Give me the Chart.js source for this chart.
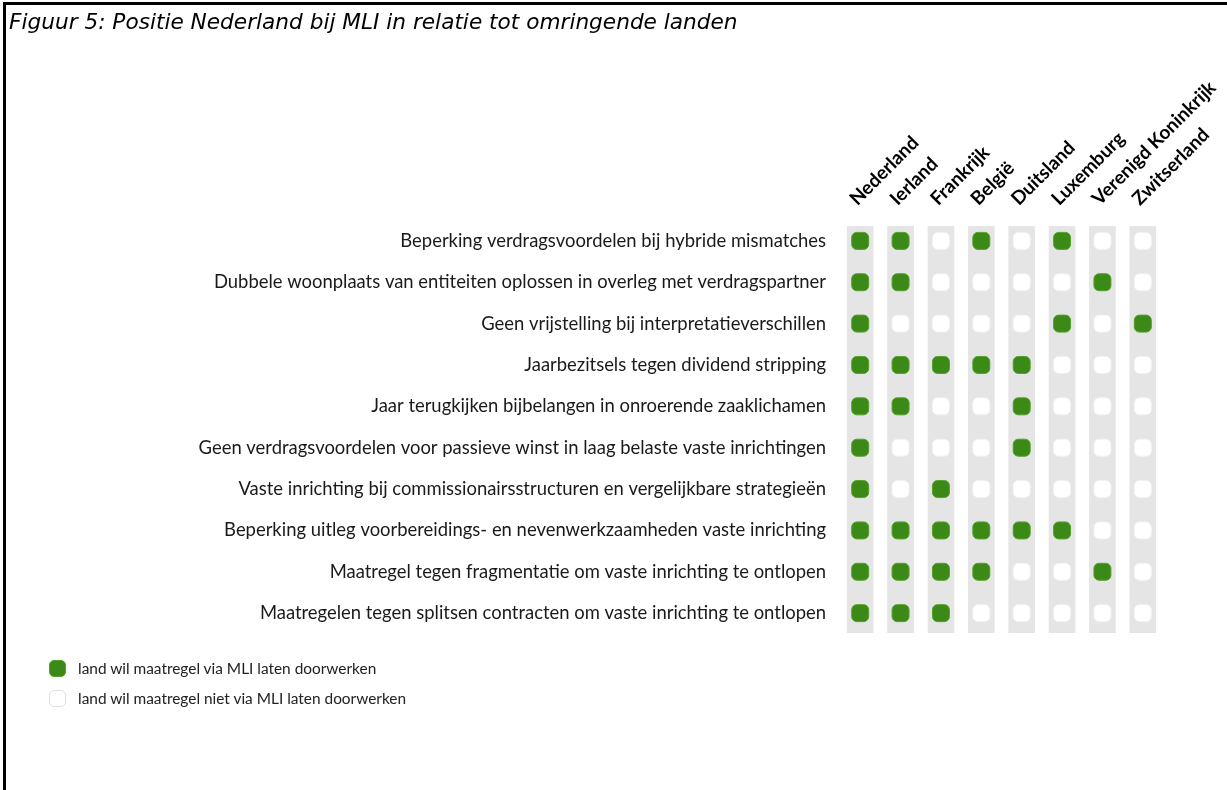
<!DOCTYPE html>
<html><head><meta charset="utf-8">
<script src="https://cdn.jsdelivr.net/npm/chart.js@4/dist/chart.umd.min.js"></script>
<style>
html,body{margin:0;padding:0;background:#fff;}
#wrap{position:relative;width:1227px;height:790px;overflow:hidden;background:#fff;}
#frameTop{position:absolute;left:3px;top:2px;width:1224px;height:3px;background:#000;}
#frameLeft{position:absolute;left:3px;top:2px;width:3px;height:788px;background:#000;}
#title{position:absolute;left:9px;top:11px;font-family:"DejaVu Sans";font-style:italic;white-space:nowrap;color:#000;line-height:1;}
#chart{position:absolute;left:0;top:0;}
#legend{position:absolute;left:49px;top:653px;font-family:Lato;color:#222;}
.item{display:flex;align-items:center;height:30px;white-space:nowrap;}
.sw{width:17px;height:17px;border-radius:5px;margin-right:12px;box-sizing:border-box;flex:none;}
</style></head>
<body>
<div id="wrap">
  <canvas id="chart" width="1227" height="790"></canvas>
  <div id="frameTop"></div><div id="frameLeft"></div>
  <div id="title"></div>
  <div id="legend"></div>
</div>
<script>
const titleText = 'Figuur 5: Positie Nederland bij MLI in relatie tot omringende landen';
const countries = ['Nederland','Ierland','Frankrijk','België','Duitsland','Luxemburg','Verenigd Koninkrijk','Zwitserland'];
const measures = [
  'Beperking verdragsvoordelen bij hybride mismatches',
  'Dubbele woonplaats van entiteiten oplossen in overleg met verdragspartner',
  'Geen vrijstelling bij interpretatieverschillen',
  'Jaarbezitsels tegen dividend stripping',
  'Jaar terugkijken bijbelangen in onroerende zaaklichamen',
  'Geen verdragsvoordelen voor passieve winst in laag belaste vaste inrichtingen',
  'Vaste inrichting bij commissionairsstructuren en vergelijkbare strategieën',
  'Beperking uitleg voorbereidings- en nevenwerkzaamheden vaste inrichting',
  'Maatregel tegen fragmentatie om vaste inrichting te ontlopen',
  'Maatregelen tegen splitsen contracten om vaste inrichting te ontlopen'
];
// 1 = land wil maatregel via MLI laten doorwerken, 0 = niet
const nederland   = [1,1,1,1,1,1,1,1,1,1];
const ierland     = [1,1,0,1,1,0,0,1,1,1];
const frankrijk   = [0,0,0,1,0,0,1,1,1,1];
const belgie      = [1,0,0,1,0,0,0,1,1,0];
const duitsland   = [0,0,0,1,1,1,0,1,0,0];
const luxemburg   = [1,0,1,0,0,0,0,1,0,0];
const verenigdKoninkrijk = [0,1,0,0,0,0,0,0,1,0];
const zwitserland = [0,0,1,0,0,0,0,0,0,0];
const countryValues = [nederland, ierland, frankrijk, belgie, duitsland, luxemburg, verenigdKoninkrijk, zwitserland];
const legendLabels = ['land wil maatregel via MLI laten doorwerken','land wil maatregel niet via MLI laten doorwerken'];

const GREEN = '#3b8a17', GREEN_EDGE = '#55a02b', STRIP = '#e5e5e5', WHITE = '#ffffff', WHITE_EDGE = '#f2f2f2';
const Y_MIN = -0.36, Y_MAX = 9.48;

const mctx = document.createElement('canvas').getContext('2d');
function fitSize(text, font, target){ mctx.font = font.replace('SIZE','100px'); return 100*target/mctx.measureText(text).width; }
const rowSize = fitSize(measures[5], 'normal 400 SIZE Lato', 628);
const colSize = fitSize('Verenigd Koninkrijk', 'normal 700 SIZE Lato', 166);
const titleSize = fitSize(titleText, 'italic 400 SIZE "DejaVu Sans"', 729);
const legendSize = fitSize(legendLabels[1], 'normal 400 SIZE Lato', 329);

const t = document.getElementById('title');
t.textContent = titleText; t.style.fontSize = titleSize + 'px';
const lg = document.getElementById('legend');
legendLabels.forEach((txt, i) => {
  const it = document.createElement('div'); it.className = 'item';
  const sw = document.createElement('div'); sw.className = 'sw';
  sw.style.background = i === 0 ? GREEN : WHITE;
  sw.style.border = '1px solid ' + (i === 0 ? GREEN_EDGE : '#e0e0e0');
  const tx = document.createElement('span'); tx.textContent = txt; tx.style.fontSize = legendSize + 'px';
  it.appendChild(sw); it.appendChild(tx); lg.appendChild(it);
});

const yes = [], no = [];
countries.forEach((c, ci) => countryValues[ci].forEach((v, ri) => (v ? yes : no).push({x: c, y: ri})));
const strips = countries.map(() => [Y_MIN, Y_MAX]);

new Chart(document.getElementById('chart'), {
  type: 'bar',
  data: {
    labels: countries,
    datasets: [
      { type: 'scatter', label: legendLabels[0], data: yes, order: 0, pointStyle: 'rectRounded', pointRadius: 9.9,
        backgroundColor: GREEN, borderColor: GREEN_EDGE, borderWidth: 1 },
      { type: 'scatter', label: legendLabels[1], data: no, order: 1, pointStyle: 'rectRounded', pointRadius: 9.9,
        backgroundColor: WHITE, borderColor: WHITE_EDGE, borderWidth: 1 },
      { type: 'bar', label: 'strip', data: strips, order: 3, backgroundColor: STRIP, borderWidth: 0, barThickness: 26 }
    ]
  },
  options: {
    responsive: false, devicePixelRatio: 1, animation: false, events: [],
    layout: { padding: { left: 0, top: 0, right: 64, bottom: 157 } },
    plugins: { legend: { display: false }, tooltip: { enabled: false }, title: { display: false } },
    scales: {
      x: { type: 'category', labels: countries, position: 'top', offset: true,
        grid: { display: false, drawTicks: false }, border: { display: false },
        ticks: { autoSkip: false, minRotation: 45, maxRotation: 45, padding: 16, labelOffset: 9, color: '#000',
          font: { family: 'Lato', weight: 'bold', size: colSize } },
        afterFit: s => { s.height = 226; s.paddingLeft = 0; s.paddingRight = 0; } },
      y: { type: 'linear', reverse: true, min: Y_MIN, max: Y_MAX,
        grid: { display: false, drawTicks: false }, border: { display: false },
        afterBuildTicks: s => { s.ticks = measures.map((m, i) => ({ value: i })); },
        ticks: { padding: 14, color: '#1a1a1a', font: { family: 'Lato', size: rowSize },
          callback: v => measures[v] ?? '' },
        afterFit: s => { s.width = 840; s.paddingTop = 0; s.paddingBottom = 0; } }
    }
  }
});
</script>
</body></html>
